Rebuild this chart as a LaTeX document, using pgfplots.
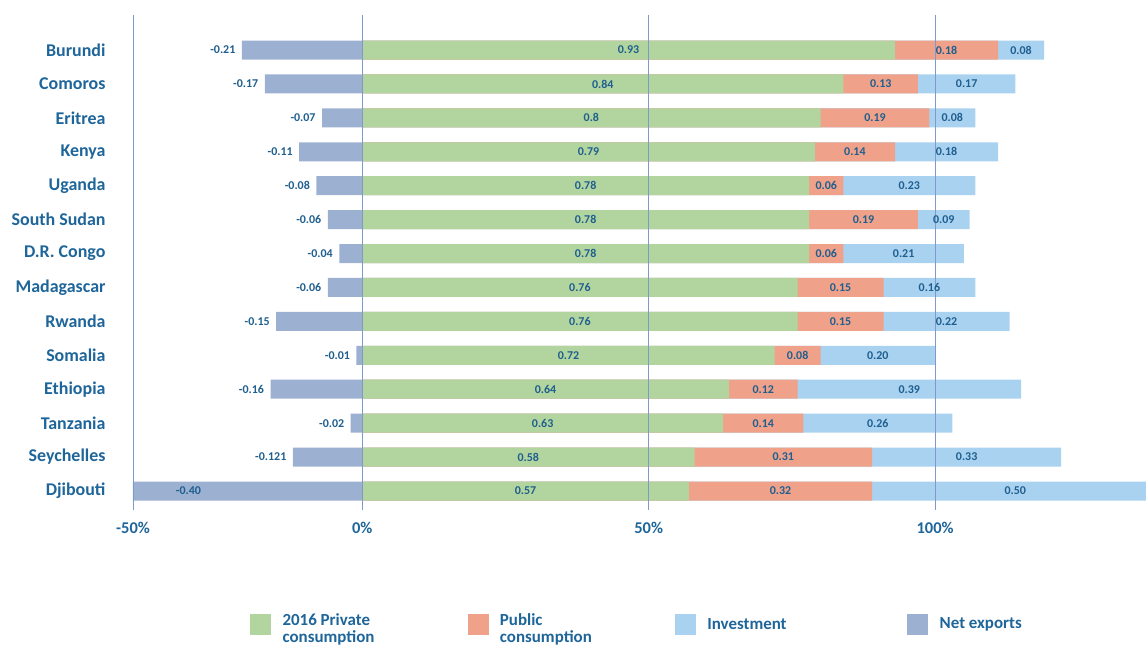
\documentclass[border=0pt]{standalone}
\usepackage{fontspec}
\setmainfont{Carlito}
\usepackage{pgfplots}
\usepackage{pgfplotstable}
\pgfplotsset{compat=1.18}
\definecolor{priv}{HTML}{B2D59F}
\definecolor{pub}{HTML}{EFA189}
\definecolor{inv}{HTML}{A9D2F0}
\definecolor{netx}{HTML}{9CB1D1}
\definecolor{txt}{HTML}{1E6599}
\definecolor{lbl}{HTML}{1F5F8F}
\definecolor{grid}{HTML}{7D9ACB}
\pgfplotstableread[col sep=comma]{
name,p,g,i,n,lx
Burundi,0.93,0.18,0.08,-0.21,-0.21
Comoros,0.84,0.13,0.17,-0.17,-0.17
Eritrea,0.8,0.19,0.08,-0.07,-0.07
Kenya,0.79,0.14,0.18,-0.11,-0.11
Uganda,0.78,0.06,0.23,-0.08,-0.08
South Sudan,0.78,0.19,0.09,-0.06,-0.06
D.R. Congo,0.78,0.06,0.21,-0.04,-0.04
Madagascar,0.76,0.15,0.16,-0.06,-0.06
Rwanda,0.76,0.15,0.22,-0.15,-0.15
Somalia,0.72,0.08,0.20,-0.01,-0.01
Ethiopia,0.64,0.12,0.39,-0.16,-0.16
Tanzania,0.63,0.14,0.26,-0.02,-0.02
Seychelles,0.58,0.31,0.33,-0.121,-0.121
Djibouti,0.57,0.32,0.50,-0.40,-0.27
}\data
\begin{document}
\begin{tikzpicture}
\path[use as bounding box] (-133bp,-137bp) rectangle (1013bp,510bp);
\begin{axis}[
  at={(0,0)}, anchor=south west,
  scale only axis, width=1013bp, height=495bp,
  xmin=-0.4, xmax=1.368,
  ymin=-1.032, ymax=13.56, y dir=reverse,
  axis line style={draw=none},
  major tick length=0pt,
  xtick={-0.4,0,0.5,1},
  xticklabels={-50\%,0\%,50\%,100\%},
  ytick={0,...,13},
  yticklabels from table={\data}{name},
  xmajorgrids,
  major grid style={draw=grid, line width=0.8bp},
  axis on top,
  xticklabel style={font=\bfseries\fontsize{16.5}{17}\selectfont, text=txt, yshift=-9bp},
  yticklabel style={font=\bfseries\fontsize{18}{18}\selectfont, text=txt, xshift=-24bp},
  legend columns=4,
  legend style={at={(0.1125,-0.2303)}, anchor=west, draw=none, fill=none,
    font=\bfseries\fontsize{17}{17}\selectfont, text=txt,
    /tikz/every odd column/.append style={column sep=10bp},
    /tikz/every even column/.append style={column sep=0bp}},
  nodes near coords style={font=\bfseries\fontsize{12}{12}\selectfont, text=lbl, anchor=center},
]
\addplot[xbar, bar width=19bp, bar shift=0pt, fill=inv, draw=none, forget plot]
  table[x expr=\thisrow{p}+\thisrow{g}+\thisrow{i}, y expr=\coordindex]{\data};
\addplot[xbar, bar width=19bp, bar shift=0pt, fill=pub, draw=none, forget plot]
  table[x expr=\thisrow{p}+\thisrow{g}, y expr=\coordindex]{\data};
\addplot[xbar, bar width=19bp, bar shift=0pt, fill=priv, draw=none, forget plot]
  table[x expr=\thisrow{p}, y expr=\coordindex]{\data};
\addplot[xbar, bar width=19bp, bar shift=0pt, fill=netx, draw=none, forget plot]
  table[x=n, y expr=\coordindex]{\data};
% labels
\addplot[draw=none, mark=none, nodes near coords, point meta=explicit symbolic, forget plot]
  table[x expr=\thisrow{p}/2, y expr=\coordindex, meta=p]{\data};
\addplot[draw=none, mark=none, nodes near coords, point meta=explicit symbolic, forget plot]
  table[x expr=\thisrow{p}+\thisrow{g}/2, y expr=\coordindex, meta=g]{\data};
\addplot[draw=none, mark=none, nodes near coords, point meta=explicit symbolic, forget plot]
  table[x expr=\thisrow{p}+\thisrow{g}+\thisrow{i}/2, y expr=\coordindex, meta=i]{\data};
\addplot[draw=none, mark=none, nodes near coords, point meta=explicit symbolic, forget plot,
  nodes near coords style={anchor=east, xshift=-3bp}]
  table[x=lx, y expr=\coordindex, meta=n]{\data};
% legend
\addlegendimage{legend image code/.code={\fill[priv] (0bp,-10bp) rectangle (20bp,10bp);}}
\addlegendentry{\parbox[c]{183bp}{2016 Private\\consumption}}
\addlegendimage{legend image code/.code={\fill[pub] (0bp,-10bp) rectangle (20bp,10bp);}}
\addlegendentry{\parbox[c]{173bp}{Public\\consumption}}
\addlegendimage{legend image code/.code={\fill[inv] (0bp,-10bp) rectangle (20bp,10bp);}}
\addlegendentry{\parbox[c]{198bp}{Investment}}
\addlegendimage{legend image code/.code={\fill[netx] (0bp,-10bp) rectangle (20bp,10bp);}}
\addlegendentry{\parbox[c]{100bp}{Net exports}}
\end{axis}
\end{tikzpicture}
\end{document}
